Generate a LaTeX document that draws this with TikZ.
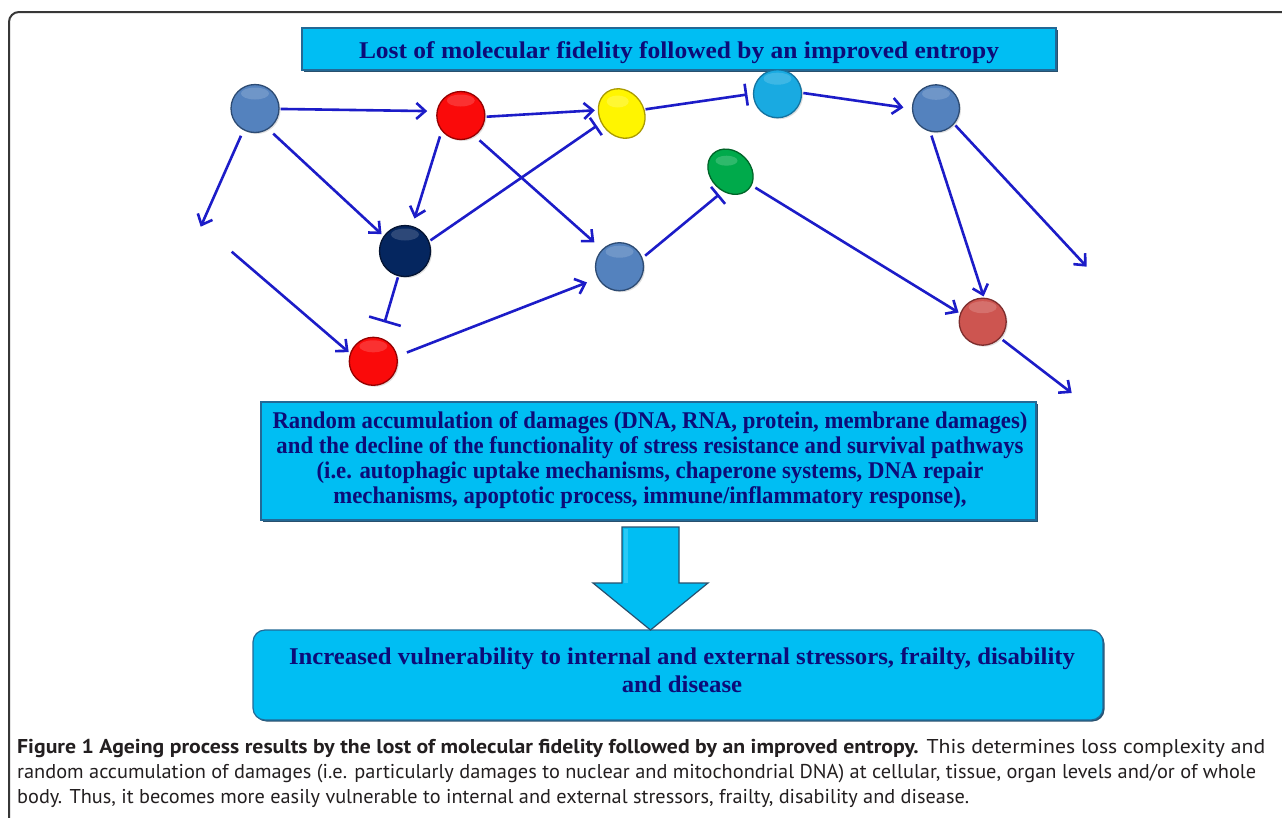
\documentclass[tikz,border=0pt]{standalone}
\usepackage{fontspec}
\usetikzlibrary{arrows.meta,shadows,calc}
\setmainfont{Liberation Serif}
\newfontfamily\capfont{PT Sans}
\definecolor{lnk}{RGB}{28,28,200}
\definecolor{boxfill}{RGB}{0,190,243}
\definecolor{boxtop}{RGB}{70,210,250}
\definecolor{boxedge}{RGB}{35,105,150}
\definecolor{boxshade}{RGB}{40,80,110}
\definecolor{boxtext}{RGB}{12,12,120}
\definecolor{frame}{RGB}{55,55,55}
\definecolor{captext}{RGB}{35,31,32}
\definecolor{steel}{RGB}{84,130,190}
\definecolor{steeledge}{RGB}{45,75,115}
\definecolor{redb}{RGB}{250,10,10}
\definecolor{rededge}{RGB}{150,0,0}
\definecolor{yel}{RGB}{255,245,0}
\definecolor{yeledge}{RGB}{170,155,0}
\definecolor{sky}{RGB}{25,170,225}
\definecolor{skyedge}{RGB}{20,115,160}
\definecolor{navyb}{RGB}{5,38,95}
\definecolor{navyedge}{RGB}{5,20,50}
\definecolor{grn}{RGB}{0,170,75}
\definecolor{grnedge}{RGB}{0,100,40}
\definecolor{indred}{RGB}{205,85,80}
\definecolor{indedge}{RGB}{125,45,45}
\newsavebox\fitbox
\newcommand\setfit[3]{\sbox\fitbox{#3}\pgfmathsetmacro#1{#2/\the\wd\fitbox}}
\newcommand\boxfont{\fontsize{24}{25}\selectfont\bfseries\color{boxtext}}
\newcommand\capsize{\fontsize{20}{25}\selectfont\color{captext}}
\newcommand\capA{\textbf{Figure 1 Ageing process results by the lost of molecular fidelity followed by an improved entropy.} This determines loss complexity and}
\newcommand\capB{random accumulation of damages (i.e. particularly damages to nuclear and mitochondrial DNA) at cellular, tissue, organ levels and/or of whole}
\newcommand\capC{body. Thus, it becomes more easily vulnerable to internal and external stressors, frailty, disability and disease.}
\begin{document}
\setfit\sT{640}{\boxfont Lost of molecular fidelity followed by an improved entropy}%
\setfit\sM{755}{\boxfont Random accumulation of damages (DNA, RNA, protein, membrane damages)}%
\setfit\sB{786}{\boxfont Increased vulnerability to internal and  external stressors, frailty, disability}%
\setfit\sCa{1248}{\capsize\capfont\capA}%
\setfit\sCb{1239}{\capsize\capfont\capB}%
\setfit\sCc{952}{\capsize\capfont\capC}%
\begin{tikzpicture}[x=1pt,y=-1pt,
  ballbase/.style={circle, inner sep=0pt, line width=1.3pt,
    drop shadow={opacity=0.25,shadow xshift=1.5pt,shadow yshift=-1.5pt},
    path picture={\fill[white,opacity=0.16] ($(path picture bounding box.north)+(0,-9pt)$) ellipse [x radius=14pt,y radius=6pt];}},
  hub/.style={circle, inner sep=0pt},
  box/.style={rectangle, draw=boxedge, line width=1.2pt, fill=boxfill,
    drop shadow={opacity=1,fill=boxshade,shadow xshift=1.5pt,shadow yshift=-1.5pt}},
  lk/.style={draw=lnk, line width=2.6pt},
  act/.style={lk, -{Straight Barb[length=9pt,width=16pt]}},
  inh/.style={lk, -{Bar[width=#1]}},
  txt/.style={inner sep=0pt, align=center, font=\boxfont},
  capl/.style={anchor=base west, inner sep=0pt, font=\capsize}
]
\clip (0,0) rectangle (1282,817);
\fill[white] (0,0) rectangle (1282,817);
% frame
\draw[frame, line width=2pt, rounded corners=10pt] (9,12) rectangle (1400,830);

% boxes
\node[box, minimum width=754pt, minimum height=42pt] (title) at (679,49) {};
\node[txt, anchor=base] (titleT) at (679,58) {\scalebox{\sT}[1]{Lost of molecular fidelity followed by an improved entropy}};

\node[box, minimum width=775pt, minimum height=118pt] (mid) at (648.5,461) {};
\node[txt] (midT) at (650,460) {%
\scalebox{\sM}[1]{Random accumulation of damages (DNA, RNA, protein, membrane damages)}\\
\scalebox{\sM}[1]{and the decline of the functionality of stress resistance and survival pathways}\\
\scalebox{\sM}[1]{(i.e. autophagic uptake mechanisms,  chaperone systems,  DNA repair}\\
\scalebox{\sM}[1]{mechanisms, apoptotic process, immune/inflammatory  response),}};

\node[box, rounded corners=12pt, minimum width=850pt, minimum height=90pt] (bot) at (678,675) {};
\node[txt, font=\fontsize{24}{28}\selectfont\bfseries\color{boxtext}] (botT) at (682,670) {%
\scalebox{\sB}[1]{Increased vulnerability to internal and  external stressors, frailty, disability}\\
\scalebox{\sB}[1]{and disease}};

% big arrow
\draw[fill=boxfill, draw=boxshade, line width=1.2pt, line join=miter]
  (622,527) -- (679,527) -- (679,583) -- (708,583) -- (650.5,630) -- (593,583) -- (622,583) -- cycle;
\fill[boxtop, opacity=0.6] (624,529) rectangle (628,583);

% network nodes
\node[ballbase, minimum size=48pt, fill=steel, draw=steeledge] (A) at (255,108.5) {};
\node[ballbase, minimum size=48pt, fill=redb, draw=rededge] (B) at (460.8,115.5) {};
\node[ballbase, minimum size=48pt, fill=sky, draw=skyedge] (D) at (777.5,93.7) {};
\node[ballbase, minimum size=47pt, fill=steel, draw=steeledge] (E) at (936,108.3) {};
\node[ballbase, minimum size=51pt, fill=navyb, draw=navyedge] (F) at (405,251) {};
\node[ballbase, minimum size=48pt, fill=steel, draw=steeledge] (G) at (619.5,266.7) {};
\node[ballbase, minimum size=48pt, fill=redb, draw=rededge] (I) at (373.3,361.3) {};
\node[ballbase, minimum size=47pt, fill=indred, draw=indedge] (J) at (982.7,321.7) {};
\node[hub, minimum size=48pt] (C) at (621.7,113.5) {};
\node[hub, minimum size=46pt] (H) at (730.5,171.7) {};
\filldraw[fill=yel, draw=yeledge, line width=1.3pt, rotate around={-55:(C.center)}]
  (C.center) ellipse [x radius=26pt, y radius=22pt];
\fill[white, opacity=0.2] ($(C.center)+(-4pt,12pt)$) ellipse [x radius=11pt, y radius=6pt];
\filldraw[fill=grn, draw=grnedge, line width=1.3pt, rotate around={-45:(H.center)}]
  (H.center) ellipse [x radius=25pt, y radius=20pt];
\fill[white, opacity=0.18] ($(H.center)+(-4pt,11pt)$) ellipse [x radius=11pt, y radius=5pt];

\coordinate (f1) at (200.7,226.7);
\coordinate (f2) at (231.7,251.7);
\coordinate (f3) at (1086.7,266.7);
\coordinate (f4) at (1071.7,393);

% connectors
\draw[act, shorten <=1pt, shorten >=9.3pt] (A.-1) -- (B.170.5);
\draw[act, shorten <=6pt] (A.-118) -- (f1);
\draw[act, shorten <=6.5pt, shorten >=2.8pt] (A.-57) -- (F.145.5);
\draw[act, shorten >=1.7pt] (f2) -- (I.161);
\draw[act, shorten <=1.2pt, shorten >=2.9pt] (B.-3) -- (C.172.5);
\draw[act, shorten <=5.6pt, shorten >=7.7pt] (B.-141) -- (F.74);
\draw[act, shorten <=6.6pt, shorten >=10.3pt] (B.-56.5) -- (G.135.6);
\draw[inh=21pt, shorten <=1.5pt, shorten >=3.5pt] (F.22.4) -- (C.-155.3);
\draw[inh=33pt, shorten <=1.1pt, shorten >=15.8pt] (F.-105) -- (I.74.4);
\draw[act, shorten <=10.2pt, shorten >=11.5pt] (I.12.3) -- (G.-152.6);
\draw[inh=22pt, shorten >=5.5pt] (C.10) -- (D.180);
\draw[act, shorten <=1.2pt, shorten >=8.5pt] (D.2.3) -- (E.181.3);
\draw[inh=22pt, shorten <=3.4pt, shorten >=2.6pt] (G.21.4) -- (H.-114.3);
\draw[act, shorten <=6.4pt, shorten >=1.7pt] (H.-33.6) -- (J.160.2);
\draw[act, shorten <=4.1pt, shorten >=1.2pt] (E.-104.7) -- (J.87);
\draw[act, shorten <=1.8pt] (E.-41.3) -- (f3);
\draw[act, shorten <=2.9pt] (J.-43.9) -- (f4);

% caption
\node[capl] (cap1) at (17,753) {\capfont\scalebox{\sCa}[1]{\capA}};
\node[capl] (cap2) at (17,778) {\capfont\scalebox{\sCb}[1]{\capB}};
\node[capl] (cap3) at (17,803) {\capfont\scalebox{\sCc}[1]{\capC}};
\end{tikzpicture}
\end{document}
